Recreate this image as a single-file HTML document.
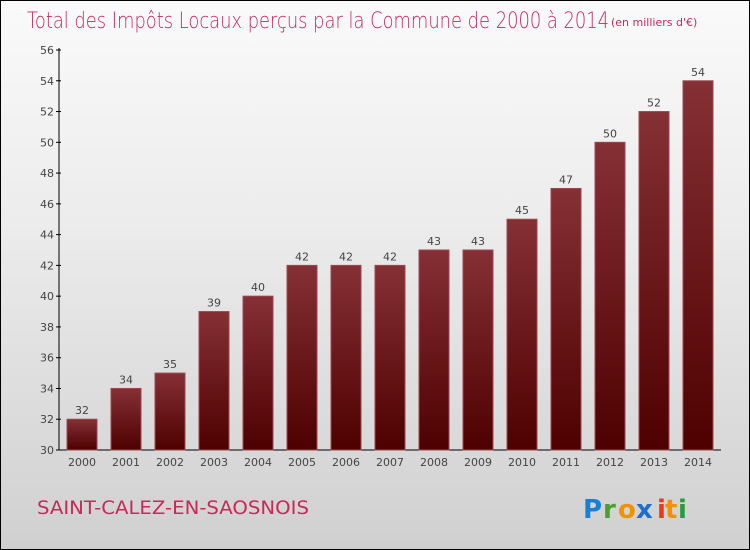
<!DOCTYPE html>
<html><head><meta charset="utf-8"><style>
body{margin:0}
#wrap{position:relative;width:748px;height:548px;border:1px solid #000;background:linear-gradient(#fafafa,#ececec 40%,#d0d0d0);overflow:hidden;font-family:"DejaVu Sans","Liberation Sans",sans-serif}
svg text{font-family:"DejaVu Sans","Liberation Sans",sans-serif}
</style></head><body>
<div id="wrap">
<svg width="748" height="548" id="chart">
<defs><linearGradient id="bg" x1="0" y1="0" x2="0" y2="1"><stop offset="0" stop-color="#853035"/><stop offset="1" stop-color="#4e0000"/></linearGradient></defs>
<text x="26" y="27" font-size="22" fill="#c8285a" font-weight="200" textLength="582" lengthAdjust="spacingAndGlyphs">Total des Impôts Locaux perçus par la Commune de 2000 à 2014</text>
<text x="610" y="25" font-size="11" fill="#c8285a">(en milliers d'€)</text>
<text x="36" y="513" font-size="19" fill="#c8285a" textLength="272" lengthAdjust="spacingAndGlyphs">SAINT-CALEZ-EN-SAOSNOIS</text>
<g font-size="26" font-weight="bold">
<text x="582" y="517" fill="#1a7fd4">P</text><text x="602" y="517" fill="#4aa02c">r</text><text x="617" y="517" fill="#f39200">o</text><text x="635" y="517" fill="#1a6fd0">x</text><text x="656" y="517" fill="#e53a1c">i</text><text x="664" y="517" fill="#f39200">t</text><text x="677" y="517" fill="#2a9a3a">i</text>
</g>
<g id="g"></g>
</svg>
</div>
<script>
const categories=["2000","2001","2002","2003","2004","2005","2006","2007","2008","2009","2010","2011","2012","2013","2014"];
const values=[32,34,35,39,40,42,42,42,43,43,45,47,50,52,54];
const ticks=[30,32,34,36,38,40,42,44,46,48,50,52,54,56];
const ns="http://www.w3.org/2000/svg";
const g=document.getElementById('g');
const y0=449,yMin=30,yMax=56,yTop=49;
const y=v=>y0-(v-yMin)*(y0-yTop)/(yMax-yMin);
const x=i=>66+i*44;
function mk(t,a){const e=document.createElementNS(ns,t);for(const k in a)e.setAttribute(k,a[k]);g.appendChild(e);return e;}
let ax=mk('line',{x1:58,y1:yTop-2,x2:58,y2:y0,stroke:'#000'});


let xa=mk('line',{x1:58,y1:y0,x2:720,y2:y0,stroke:'#000'});


ticks.forEach(t=>{
 mk('line',{x1:55,x2:60,y1:y(t),y2:y(t),stroke:'#000'});
 const tx=mk('text',{x:53,y:y(t)+4,'font-size':11,fill:'#444','text-anchor':'end'});tx.textContent=t;
 
 
});
values.forEach((v,i)=>{
 const r=mk('rect',{x:x(i),y:y(v),width:30,height:y0-y(v),fill:'url(#bg)',stroke:'#9a4a50','stroke-width':1});
 
 
 const l=mk('text',{x:x(i)+15,y:y(v)-5,'font-size':11,fill:'#444','text-anchor':'middle'});l.textContent=v;
 
 
 const c=mk('text',{x:x(i)+15,y:465,'font-size':11,fill:'#444','text-anchor':'middle'});c.textContent=categories[i];
 
 
});
</script>
</body></html>
